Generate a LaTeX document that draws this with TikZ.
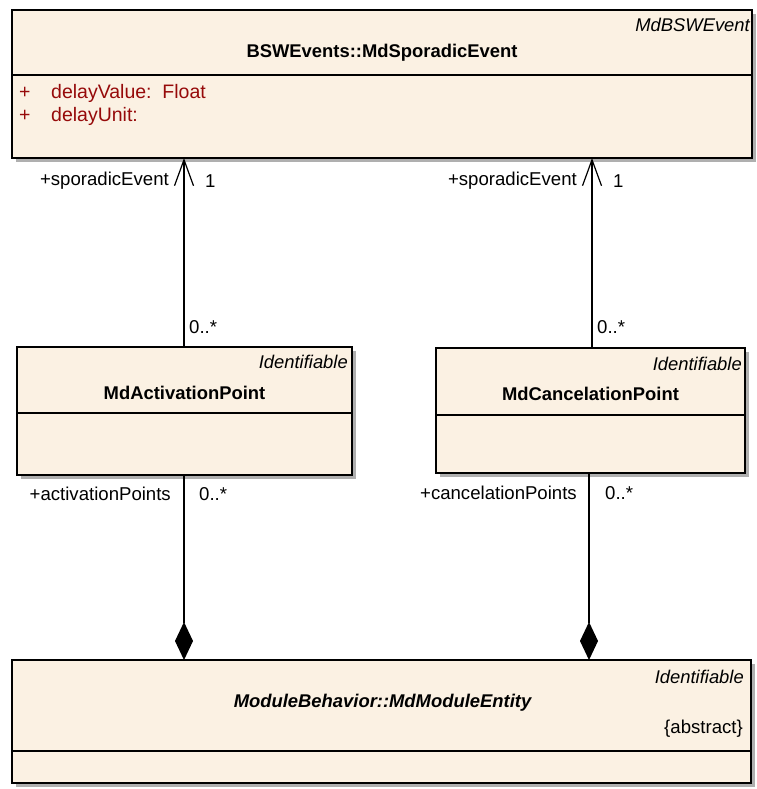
\documentclass[tikz,border=0pt]{standalone}
\usepackage{fontspec}
\setmainfont{Liberation Sans}
\usetikzlibrary{arrows.meta,shadows}
\definecolor{classfill}{RGB}{251,241,227}
\definecolor{attrred}{RGB}{150,10,10}
\definecolor{shadowgray}{RGB}{175,175,175}
\tikzset{
  classbox/.style={draw=black, fill=classfill, line width=1.4pt, rectangle,
    inner sep=0pt, outer sep=0pt, anchor=north west,
    drop shadow={shadow xshift=4pt, shadow yshift=-4pt, fill=shadowgray, opacity=1}},
  txt/.style={inner sep=0pt, font=\fontsize{18.6}{21}\selectfont},
  title/.style={txt, font=\fontsize{18.4}{21}\selectfont\bfseries},
  stereo/.style={txt, font=\fontsize{18.4}{21}\selectfont\itshape, anchor=east},
  attr/.style={txt, font=\fontsize{19.5}{22}\selectfont, text=attrred, anchor=west},
  divider/.style={line width=1.4pt},
  assoc/.style={line width=1.2pt, -{Straight Barb[length=26pt,width=19pt,line width=1.2pt]}},
  compos/.style={line width=1.2pt, {Diamond[length=38pt,width=18pt]}-},
  rolelbl/.style={txt, anchor=east},
  multlbl/.style={txt, anchor=west}
}
\begin{document}
\begin{tikzpicture}[x=1pt,y=-1pt]
\useasboundingbox[fill=white] (0,0) rectangle (756,789);

% class MdSporadicEvent
\node[classbox, minimum width=740pt, minimum height=148pt] (ev) at (12,10) {};
\draw[divider] (ev.west |- 0,75) -- (ev.east |- 0,75);
\node[stereo] (evst) at (750,25) {MdBSWEvent};
\node[title] (evname) at (382,53) {BSWEvents::MdSporadicEvent};
\node[attr] (a1p) at (19,93) {+};
\node[attr] (a1) at (51,93) {delayValue:\ \ Float};
\node[attr] (a2p) at (19,116) {+};
\node[attr] (a2) at (51,116) {delayUnit:};

% class MdActivationPoint
\node[classbox, minimum width=335pt, minimum height=128pt] (act) at (17,347) {};
\draw[divider] (act.west |- 0,413) -- (act.east |- 0,413);
\node[stereo] (actst) at (348,362) {Identifiable};
\node[title] (actname) at (184.5,393) {MdActivationPoint};

% class MdCancelationPoint
\node[classbox, minimum width=309pt, minimum height=125pt] (can) at (436,348) {};
\draw[divider] (can.west |- 0,415) -- (can.east |- 0,415);
\node[stereo] (canst) at (742,364) {Identifiable};
\node[title] (canname) at (590.5,394) {MdCancelationPoint};

% class MdModuleEntity
\node[classbox, minimum width=739pt, minimum height=123pt] (mod) at (12,660) {};
\draw[divider] (mod.west |- 0,751) -- (mod.east |- 0,751);
\node[stereo] (modst) at (744,677) {Identifiable};
\node[txt, font=\fontsize{18.4}{21}\selectfont\bfseries\itshape] (modname) at (382.5,703) {ModuleBehavior::MdModuleEntity};
\node[txt, anchor=east] (modabs) at (743,729) {\{abstract\}};

% associations to MdSporadicEvent
\draw[assoc] (act.north -| 184,0) -- (ev.south -| 184,0);
\draw[assoc] (can.north -| 592,0) -- (ev.south -| 592,0);
\node[rolelbl] (r1) at (169,181) {+sporadicEvent};
\node[multlbl] (m1) at (205,181) {1};
\node[multlbl] (m2) at (189,327) {0..*};
\node[rolelbl] (r2) at (577,181) {+sporadicEvent};
\node[multlbl] (m3) at (613,181) {1};
\node[multlbl] (m4) at (597,327) {0..*};

% compositions into MdModuleEntity
\draw[compos] (mod.north -| 184,0) -- (act.south -| 184,0);
\draw[compos] (mod.north -| 589,0) -- (can.south -| 589,0);
\node[rolelbl] (r3) at (171,494) {+activationPoints};
\node[multlbl] (m5) at (199,494) {0..*};
\node[rolelbl] (r4) at (577,493) {+cancelationPoints};
\node[multlbl] (m6) at (605,493) {0..*};
\end{tikzpicture}
\end{document}
